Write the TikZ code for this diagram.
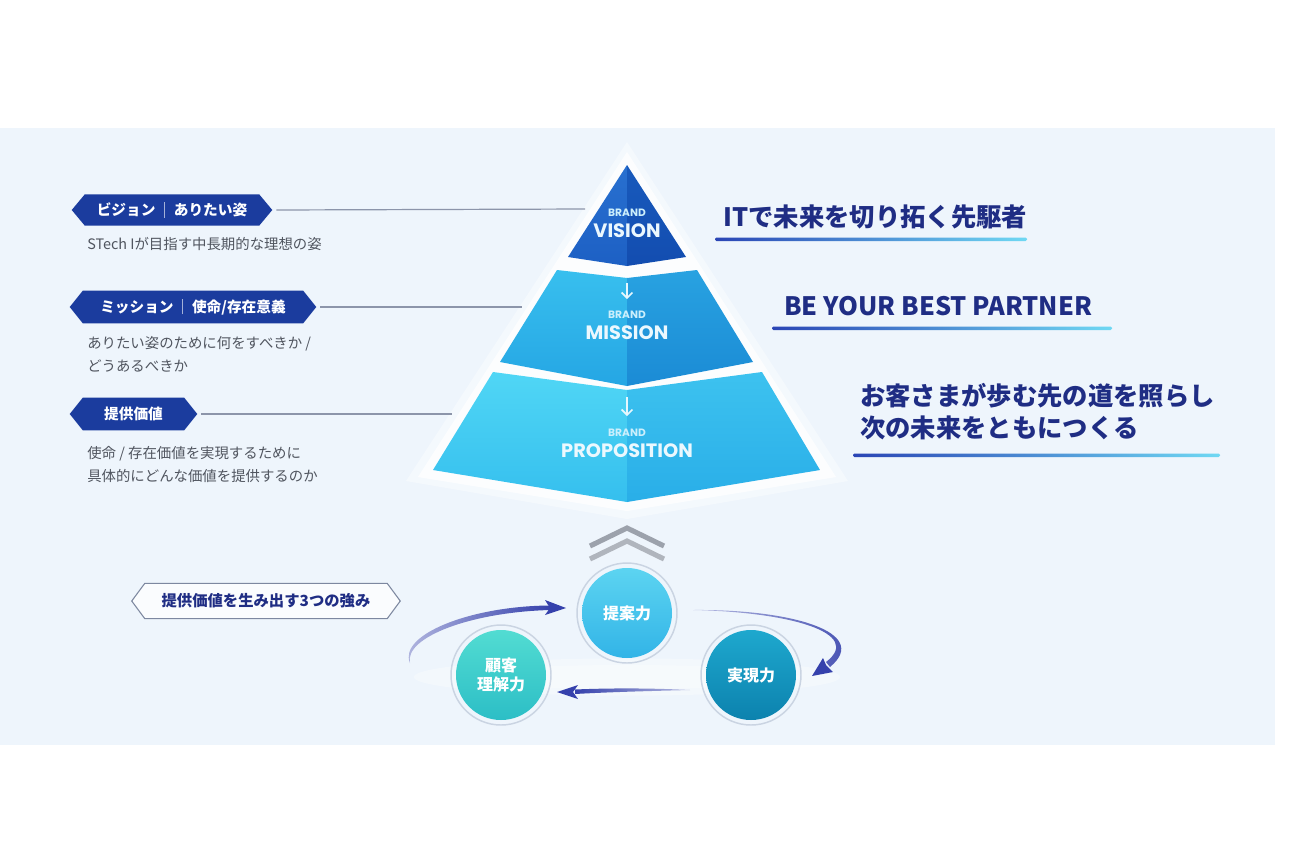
\documentclass[tikz,border=0pt]{standalone}
\usepackage{fontspec}
\setmainfont{Noto Sans CJK JP}
\newfontfamily\pop{Poppins}
\usetikzlibrary{arrows.meta,calc,backgrounds}
\definecolor{bgblue}{HTML}{EEF5FC}
\definecolor{tagblue}{HTML}{1B3C9E}
\definecolor{navy}{HTML}{1F2D84}
\definecolor{subgray}{HTML}{50555F}
\definecolor{leader}{HTML}{8C95AA}
\definecolor{vLt}{HTML}{2870D0}\definecolor{vLb}{HTML}{1D60C4}
\definecolor{vRt}{HTML}{185ABC}\definecolor{vRb}{HTML}{134DB0}
\definecolor{mLt}{HTML}{38BFEE}\definecolor{mLb}{HTML}{25A6E4}
\definecolor{mRt}{HTML}{28A2E1}\definecolor{mRb}{HTML}{1B8BD5}
\definecolor{pLt}{HTML}{50D6F5}\definecolor{pLb}{HTML}{35BFEE}
\definecolor{pRt}{HTML}{3DC2EF}\definecolor{pRb}{HTML}{29AEE8}
\definecolor{arrowblue}{HTML}{3541AC}
\definecolor{chev}{HTML}{9CA2AC}
\definecolor{ringc}{HTML}{CAD4E2}
\definecolor{ulL}{HTML}{2A45B5}
\definecolor{ulR}{HTML}{6FD8F3}
\definecolor{tagline}{HTML}{7D88A0}
\definecolor{c1t}{HTML}{5CD4F1}\definecolor{c1b}{HTML}{32B4E7}
\definecolor{c2t}{HTML}{1EA8CE}\definecolor{c2b}{HTML}{0C82AE}
\definecolor{c3t}{HTML}{52DCD2}\definecolor{c3b}{HTML}{2CBEC6}
\tikzset{
  tagtext/.style={text=white, font=\fontsize{11}{13}\selectfont\bfseries, inner sep=0pt, minimum height=23pt},
  subtext/.style={text=subgray, font=\fontsize{10.8}{17.25}\selectfont, anchor=west, align=left, inner sep=0pt},
  headtext/.style={text=navy, font=\fontsize{19}{24}\selectfont\bfseries, anchor=west, align=left, inner sep=0pt},
  leaderline/.style={draw=leader, line width=0.9pt},
  brandsmall/.style={text=white!80!cyan, font=\pop\fontsize{8}{9}\selectfont\bfseries, inner sep=0pt},
  brandbig/.style={text=white!92!cyan, font=\pop\fontsize{14.5}{16}\selectfont\bfseries, inner sep=0pt},
  downarrow/.style={draw=white!90!cyan, line width=1.2pt, -{Straight Barb[length=4pt,width=8pt]}},
  circ/.style={circle, minimum size=67.5pt, inner sep=0pt, text=white, align=center,
     font=\fontsize{12}{14}\selectfont\bfseries},
  ring/.style={draw=ringc, line width=1.1pt},
  underl/.style={left color=ulL, right color=ulR},
  chevron/.style={draw=chev, line width=3.8pt},
  outtag/.style={text=navy, font=\fontsize{11.5}{13}\selectfont\bfseries, inner sep=0pt, minimum height=26pt, minimum width=201pt},
}
\begin{document}
\begin{tikzpicture}[x=0.75pt,y=-0.75pt]
\useasboundingbox (0,0) rectangle (1290,840);
\begin{scope}[on background layer]
\fill[white] (0,0) rectangle (1290,840);
\fill[bgblue] (0,128) rectangle (1275,745);
\end{scope}

% ---------- pyramid glow ----------
\fill[white, opacity=0.4] (627,142) -- (848,481) -- (627,519) -- (406,481) -- cycle;
\fill[white, opacity=0.8] (627,152) -- (836,477) -- (627,511) -- (418,477) -- cycle;

% ---------- pyramid tiers ----------
\shade[top color=vLt, bottom color=vLb] (627,165) -- (627,266) -- (568,257) -- cycle;
\shade[top color=vRt, bottom color=vRb] (627,165) -- (686,257) -- (627,266) -- cycle;
\shade[top color=mLt, bottom color=mLb] (557,270) -- (627,278) -- (627,386) -- (500,362) -- cycle;
\shade[top color=mRt, bottom color=mRb] (627,278) -- (697,270) -- (753,362) -- (627,386) -- cycle;
\shade[top color=pLt, bottom color=pLb] (493,372) -- (627,390) -- (627,502) -- (433,470) -- cycle;
\shade[top color=pRt, bottom color=pRb] (627,390) -- (762,372) -- (820,470) -- (627,502) -- cycle;

\node[brandsmall] (bv) at (627,213) {BRAND};
\node[brandbig] (vision) at (627,231) {VISION};
\node[brandsmall] (bm) at (627,315) {BRAND};
\node[brandbig] (mission) at (627,333) {MISSION};
\node[brandsmall] (bp) at (627,433) {BRAND};
\node[brandbig] (proposition) at (627,451) {PROPOSITION};

\coordinate (am1) at (627,283);
\coordinate (am2) at (627,299);
\coordinate (ap1) at (627,397);
\coordinate (ap2) at (627,416);
\draw[downarrow] (am1) -- (am2);
\draw[downarrow] (ap1) -- (ap2);

% ---------- left tags ----------
\node[tagtext, minimum width=150pt] (t1) at (172,210)
  {ビジョン\hspace{0.6em}{\color{white!60!tagblue}\rule[-0.15em]{0.6pt}{1.05em}}\hspace{0.6em}ありたい姿};
\node[tagtext, minimum width=184.5pt, minimum height=24pt] (t2) at (193,307)
  {ミッション\hspace{0.6em}{\color{white!60!tagblue}\rule[-0.15em]{0.6pt}{1.05em}}\hspace{0.6em}使命/存在意義};
\node[tagtext, minimum width=95.25pt, minimum height=24pt] (t3) at (133.5,414) {提供価値};
\begin{scope}[on background layer]
\foreach \t in {t1,t2,t3}{
  \fill[tagblue] (\t.west) -- ($(\t.north west)+(13,0)$) -- ($(\t.north east)+(-13,0)$) -- (\t.east)
     -- ($(\t.south east)+(-13,0)$) -- ($(\t.south west)+(13,0)$) -- cycle;
}
\end{scope}

\coordinate (e1) at (585,209);
\coordinate (e2) at (522,307);
\coordinate (e3) at (452,414);
\draw[leaderline] ([xshift=3pt]t1.east) -- (e1);
\draw[leaderline] ([xshift=3pt]t2.east) -- (e2);
\draw[leaderline] ([xshift=3pt]t3.east) -- (e3);

\node[subtext] (s1) at (87,244) {STech Iが目指す中長期的な理想の姿};
\node[subtext] (s2) at (87,354.5) {ありたい姿のために何をすべきか /\\どうあるべきか};
\node[subtext] (s3) at (87,464.5) {使命 / 存在価値を実現するために\\具体的にどんな価値を提供するのか};

% ---------- right headings ----------
\node[headtext] (h1) at (723,217) {ITで未来を切り拓く先駆者};
\node[headtext] (h2) at (784,306) {BE YOUR BEST PARTNER};
\node[headtext] (h3) at (860,412) {お客さまが歩む先の道を照らし\\次の未来をともにつくる};
\shade[underl, rounded corners=1pt] (715,237.5) rectangle (1027,241);
\shade[underl, rounded corners=1pt] (772,326.5) rectangle (1112,330);
\shade[underl, rounded corners=1pt] (853,453.5) rectangle (1220,457);

% ---------- chevrons ----------
\draw[chevron] (590,546) -- (627,528) -- (664,546);
\draw[chevron, draw=chev!80] (590,559) -- (627,541) -- (664,559);

% ---------- bottom tag ----------
\node[outtag] (bt) at (266,601) {提供価値を生み出す3つの強み};
\begin{scope}[on background layer]
\filldraw[fill=white!70!bgblue, draw=tagline, line width=0.8pt]
  (bt.west) -- ($(bt.north west)+(13,0)$) -- ($(bt.north east)+(-13,0)$) -- (bt.east)
  -- ($(bt.south east)+(-13,0)$) -- ($(bt.south west)+(13,0)$) -- cycle;
\end{scope}

% ---------- glow band ----------
\fill[white, opacity=0.3] (627,677) ellipse[x radius=160pt, y radius=14pt];
\fill[white, opacity=0.3] (627,677) ellipse[x radius=130pt, y radius=9pt];

% ---------- circles ----------
\node[circ, top color=c1t, bottom color=c1b] (c1) at (627,613) {提案力};
\node[circ, top color=c2t, bottom color=c2b] (c2) at (751,675) {実現力};
\node[circ, top color=c3t, bottom color=c3b] (c3) at (501,675) {顧客\\理解力};
\foreach \c in {c1,c2,c3}{ \draw[ring] (\c) circle[radius=37.5pt]; }

% ---------- cycle arrows ----------
% arrow 1: c3 -> c1
\coordinate (a1s) at ($(c3)+(-91,-12)$);
\coordinate (a1e) at ($(c1)+(-61,-5)$);
\shade[left color=arrowblue!35!white, right color=arrowblue]
  (a1s) .. controls (398,635) and (470,606) .. ($(a1e)+(-16,-2.5)$)
  -- ($(a1e)+(-16,2)$) .. controls (472,612) and (404,637) .. (a1s) -- cycle;
\fill[arrowblue] (a1e) -- ($(a1e)+(-21,-8)$) -- ($(a1e)+(-16,0)$) -- ($(a1e)+(-21,7)$) -- cycle;
% arrow 2: c1 -> c2
\coordinate (a2s) at ($(c1)+(66,-3)$);
\coordinate (a2e) at ($(c2)+(61,1)$);
\shade[left color=arrowblue!35!white, right color=arrowblue]
  (a2s) .. controls (790,609) and (872,632) .. (830,667)
  -- (826,662) .. controls (864,633) and (790,612) .. (a2s) -- cycle;
\fill[arrowblue] (a2e) -- (833,672) -- (826,665) -- (823,658) -- cycle;
% arrow 3: c2 -> c3
\coordinate (a3s) at ($(c2)+(-61,15)$);
\coordinate (a3e) at ($(c3)+(56,17)$);
\shade[left color=arrowblue, right color=arrowblue!35!white]
  (a3s) .. controls (650,688) and (610,688) .. ($(a3e)+(18,-2.5)$)
  -- ($(a3e)+(18,2)$) .. controls (610,692) and (650,691) .. (a3s) -- cycle;
\fill[arrowblue] (a3e) -- ($(a3e)+(21,-7)$) -- ($(a3e)+(16,0)$) -- ($(a3e)+(21,7)$) -- cycle;
\end{tikzpicture}
\end{document}
